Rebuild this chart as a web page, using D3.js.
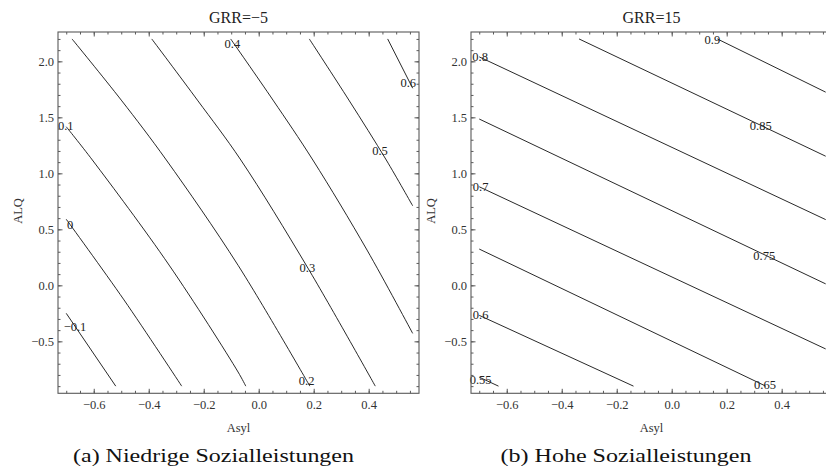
<!DOCTYPE html>
<html>
<head>
<meta charset="utf-8">
<script src="https://cdn.jsdelivr.net/npm/d3@7"></script>
<style>
  body { margin: 0; background: #fff; }
  svg { display: block; }
  text { font-family: "Liberation Serif", "Times New Roman", serif; }
</style>
</head>
<body>
<svg id="chart" width="826" height="469"></svg>
<script>
/* Contour plots, two panels */

//** data **//
var xTicks = [-0.6, -0.4, -0.2, 0.0, 0.2, 0.4];
var yTicks = [-0.5, 0.0, 0.5, 1.0, 1.5, 2.0];
var xMinor = d3.range(-0.7, 0.5751, 0.05);
var yMinor = d3.range(-0.9, 2.2001, 0.1);

var titles = ["GRR=\u22125", "GRR=15"];
var captions = ["(a) Niedrige Sozialleistungen", "(b) Hohe Sozialleistungen"];
var xLabel = "Asyl";
var yLabel = "ALQ";

// panel (a): contour levels, line points [Asyl, ALQ], label anchors
var lowLevels = [-0.1, 0, 0.1, 0.2, 0.3, 0.4, 0.5, 0.6];
var lowLines = [
  [[-0.7, -0.25], [-0.52, -0.9]],
  [[-0.7, 0.59], [-0.49, -0.13], [-0.28, -0.9]],
  [[-0.7, 1.416], [-0.605, 1.119], [-0.326, 0.181], [-0.075, -0.774], [-0.047, -0.9]],
  [[-0.679, 2.2], [-0.5, 1.654], [-0.336, 1.119], [-0.075, 0.179], [0.186, -0.9]],
  [[-0.389, 2.2], [-0.223, 1.654], [-0.065, 1.119], [0.179, 0.154], [0.424, -0.9]],
  [[-0.102, 2.2], [0.052, 1.654], [0.197, 1.119], [0.394, 0.315], [0.56, -0.429]],
  [[0.184, 2.2], [0.328, 1.654], [0.464, 1.119], [0.56, 0.71]],
  [[0.469, 2.2], [0.56, 1.76]]
];
var lowLabelPos = [[-0.668, -0.37], [-0.686, 0.538], [-0.702, 1.425], [0.1745, -0.854],
                   [0.177, 0.157], [-0.096, 2.16], [0.441, 1.199], [0.544, 1.809]];

// panel (b)
var highLevels = [0.55, 0.6, 0.65, 0.7, 0.75, 0.8, 0.85, 0.9];
var highLines = [
  [[-0.7, -0.82], [-0.63, -0.9]],
  [[-0.7, -0.268], [-0.139, -0.9]],
  [[-0.7, 0.324], [0.342, -0.9]],
  [[-0.7, 0.88], [0.56, -0.568]],
  [[-0.7, 1.485], [0.56, 0.013]],
  [[-0.7, 2.04], [0.56, 0.587]],
  [[-0.337, 2.2], [0.56, 1.153]],
  [[0.166, 2.2], [0.56, 1.725]]
];
var highLabelPos = [[-0.695, -0.839], [-0.695, -0.259], [0.3393, -0.89], [-0.695, 0.88],
                    [0.3367, 0.264], [-0.697, 2.041], [0.324, 1.422], [0.148, 2.196]];

var xDomain = [-0.73, 0.583];
var yDomain = [-0.964, 2.262];

//** chart **//
var svg = d3.select("#chart");
var fmtTick = d3.format(".1f");
var fmtLevel = d3.format("~g");

var frameColor = "#5a5a5a";
var plotTop = 32, plotBottom = 393.3, panelW = 361;
var panels = [
  {left: 58, title: titles[0], caption: captions[0], levels: lowLevels, lines: lowLines, labels: lowLabelPos, capW: 281, capX: 213.5},
  {left: 471, title: titles[1], caption: captions[1], levels: highLevels, lines: highLines, labels: highLabelPos, capW: 251, capX: 626}
];

panels.forEach(function(p) {
  var x = d3.scaleLinear().domain(xDomain).range([p.left, p.left + panelW]);
  var y = d3.scaleLinear().domain(yDomain).range([plotBottom, plotTop]);
  var g = svg.append("g");

  // clip
  var clipId = "clip" + p.left;
  svg.append("clipPath").attr("id", clipId)
    .append("rect").attr("x", p.left).attr("y", plotTop).attr("width", panelW).attr("height", plotBottom - plotTop);

  // contour lines
  var line = d3.line()
    .x(function(d) { return x(d[0]); })
    .y(function(d) { return y(d[1]); })
    .curve(d3.curveCatmullRom);

  g.append("g").attr("clip-path", "url(#" + clipId + ")")
    .selectAll("path")
    .data(p.lines)
    .enter().append("path")
    .attr("d", line)
    .attr("fill", "none")
    .attr("stroke", "#111")
    .attr("stroke-width", 0.9);

  // contour labels
  g.append("g")
    .selectAll("text")
    .data(p.levels)
    .enter().append("text")
    .attr("x", function(d, i) { return x(p.labels[i][0]); })
    .attr("y", function(d, i) { return y(p.labels[i][1]); })
    .attr("dy", "0.35em")
    .attr("text-anchor", "middle")
    .attr("font-size", "12.5px")
    .attr("fill", "#222")
    .text(function(d) { return fmtLevel(d); });

  // axes: major + minor ticks on all four sides, pointing in
  function ax(axisFn, scale, vals, size, pad, labels) {
    return axisFn(scale).tickValues(vals).tickSizeInner(-size).tickSizeOuter(0)
      .tickPadding(pad).tickFormat(labels ? fmtTick : "");
  }
  var sides = [
    {fn: d3.axisBottom, s: x, tr: "translate(0," + plotBottom + ")", maj: xTicks, min: xMinor, lab: true, pad: 7},
    {fn: d3.axisTop, s: x, tr: "translate(0," + plotTop + ")", maj: xTicks, min: xMinor, lab: false, pad: 3},
    {fn: d3.axisLeft, s: y, tr: "translate(" + p.left + ",0)", maj: yTicks, min: yMinor, lab: true, pad: 4},
    {fn: d3.axisRight, s: y, tr: "translate(" + (p.left + panelW) + ",0)", maj: yTicks, min: yMinor, lab: false, pad: 3}
  ];
  sides.forEach(function(sd) {
    var a1 = g.append("g").attr("transform", sd.tr).call(ax(sd.fn, sd.s, sd.min, 2.5, 3, false));
    var a2 = g.append("g").attr("transform", sd.tr).call(ax(sd.fn, sd.s, sd.maj, 4.5, sd.pad, sd.lab));
    [a1, a2].forEach(function(a) {
      a.select(".domain").remove();
      a.selectAll("line").attr("stroke", frameColor);
      a.selectAll("text").attr("font-family", "Liberation Serif, serif").attr("font-size", "12.5px").attr("fill", "#333");
    });
  });

  // frame
  g.append("rect")
    .attr("x", p.left).attr("y", plotTop)
    .attr("width", panelW).attr("height", plotBottom - plotTop)
    .attr("fill", "none")
    .attr("stroke", frameColor)
    .attr("stroke-width", 1.1);

  // title
  g.append("text")
    .attr("x", p.left + panelW / 2).attr("y", 22.5)
    .attr("text-anchor", "middle")
    .attr("font-size", "16px")
    .attr("fill", "#222")
    .text(p.title);

  // axis labels
  g.append("text")
    .attr("x", p.left + panelW / 2).attr("y", 431.5)
    .attr("text-anchor", "middle")
    .attr("font-size", "12.5px")
    .attr("fill", "#333")
    .text(xLabel);

  g.append("text")
    .attr("transform", "translate(" + (p.left - 36) + ",211) rotate(-90)")
    .attr("text-anchor", "middle")
    .attr("font-size", "12.5px")
    .attr("fill", "#333")
    .text(yLabel);

  // caption
  g.append("text")
    .attr("x", p.capX).attr("y", 462)
    .attr("text-anchor", "middle")
    .attr("font-size", "19px")
    .attr("textLength", p.capW)
    .attr("lengthAdjust", "spacingAndGlyphs")
    .attr("fill", "#111")
    .text(p.caption);
});
</script>
</body>
</html>
